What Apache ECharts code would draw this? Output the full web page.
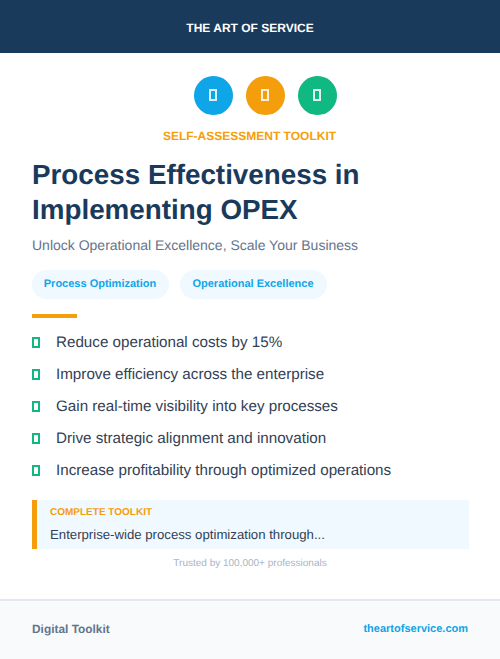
<!DOCTYPE html>
<html>

<head>
	<meta charset="UTF-8">
	<title>Process Effectiveness in Implementing OPEX</title>
	<style>
		* {
			margin: 0;
			padding: 0;
		}

		html,
		body {
			width: 100%;
			height: 100%;
			overflow: hidden;
			background-color: #fff;
		}

		#main {
			width: 500px;
			height: 659px;
		}

		#main text {
			text-rendering: geometricPrecision;
		}
	</style>
</head>

<body>
	<div id="main"></div>
	<script src="https://cdn.jsdelivr.net/npm/echarts@6/dist/echarts.min.js"></script>
	<script>
		var brand = 'THE ART OF SERVICE';
		var kicker = 'SELF-ASSESSMENT TOOLKIT';
		var titleLines = ['Process Effectiveness in', 'Implementing OPEX'];
		var subtitle = 'Unlock Operational Excellence, Scale Your Business';
		var tags = ['Process Optimization', 'Operational Excellence'];
		var benefits = [
			'Reduce operational costs by 15%',
			'Improve efficiency across the enterprise',
			'Gain real-time visibility into key processes',
			'Drive strategic alignment and innovation',
			'Increase profitability through optimized operations'
		];
		var calloutLabel = 'COMPLETE TOOLKIT';
		var calloutText = 'Enterprise-wide process optimization through...';
		var trusted = 'Trusted by 100,000+ professionals';
		var footerLeft = 'Digital Toolkit';
		var footerRight = 'theartofservice.com';
		var iconColors = ['#0ea5e9', '#f59e0b', '#10b981'];

		var navy = '#1a3a5c';
		var orange = '#f59e0b';
		var blue = '#0ea5e9';
		var green = '#10b981';
		var pale = '#f0f9ff';
		var font = '"Liberation Sans"';

		function box(x, y, w, h, fill, r) {
			return {
				type: 'rect',
				shape: { x: x, y: y, width: w, height: h, r: r || 0 },
				style: { fill: fill }
			};
		}

		function frame(x, y, w, h, color, opacity) {
			return {
				type: 'rect',
				shape: { x: x + 0.5, y: y + 0.5, width: w - 1, height: h - 1 },
				style: { fill: 'none', stroke: color, lineWidth: 2, opacity: opacity || 1 }
			};
		}

		function label(text, x, y, size, weight, color, align) {
			return {
				type: 'text',
				x: x,
				y: y,
				style: {
					text: text,
					fill: color,
					font: weight + ' ' + size + 'px ' + font,
					textAlign: align || 'left',
					textVerticalAlign: 'middle'
				}
			};
		}

		var items = [];

		// 头部
		items.push(box(0, 0, 500, 53, navy));
		items.push(label(brand, 250, 27.5, 12, 700, '#fff', 'center'));

		// 图标
		iconColors.forEach(function(color, i) {
			var cx = 213.5 + i * 52;
			items.push({
				type: 'circle',
				shape: { cx: cx, cy: 95.5, r: 19.5 },
				style: { fill: color }
			});
			items.push(frame(cx - 4, 89.5, 7, 11, '#fff', 0.85));
		});

		items.push(label(kicker, 249.5, 136, 12, 700, orange, 'center'));

		// 标题
		titleLines.forEach(function(line, i) {
			items.push(label(line, 32, 174 + i * 35, 27.8, 700, navy));
		});
		items.push(label(subtitle, 32, 244.5, 14, 400, '#64748b'));

		// 标签
		var tagX = [32, 180];
		var tagW = [137, 147];
		tags.forEach(function(tag, i) {
			items.push(box(tagX[i], 270, tagW[i], 29, pale, 14.5));
			items.push(label(tag, tagX[i] + tagW[i] / 2 - 0.5, 283.5, 11, 700, blue, 'center'));
		});

		items.push(box(32, 314, 45, 4, orange));

		// 列表
		benefits.forEach(function(text, i) {
			var y = 342 + i * 32;
			items.push(frame(32.5, y - 4.5, 7, 10, green));
			items.push(label(text, 56, y, 15.2, 400, '#334155'));
		});

		// 提示框
		items.push(box(32, 500, 437, 49, pale));
		items.push(box(32, 500, 5, 49, orange));
		items.push(label(calloutLabel, 50, 512.5, 10, 700, orange));
		items.push(label(calloutText, 50, 534.5, 13.2, 400, '#334155'));

		items.push(label(trusted, 250, 563, 10, 400, '#a9b4c4', 'center'));

		// 页脚
		items.push(box(0, 601, 500, 58, '#f8fafc'));
		items.push(box(0, 599, 500, 2, '#e2e8f0'));
		items.push(label(footerLeft, 32, 629, 11.9, 700, '#64748b'));
		items.push(label(footerRight, 468, 628.5, 11, 700, blue, 'right'));

		var poster = echarts.init(document.getElementById('main'), null, { renderer: 'svg' });
		poster.setOption({
			backgroundColor: '#fff',
			animation: false,
			graphic: {
				elements: items
			}
		});
	</script>
</body>

</html>
